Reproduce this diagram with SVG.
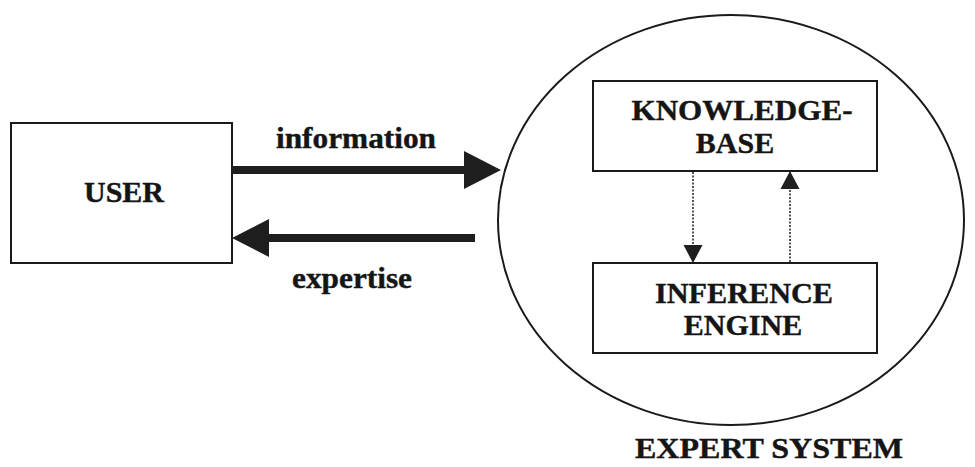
<svg xmlns="http://www.w3.org/2000/svg" width="975" height="467" viewBox="0 0 975 467">
<style>
.box{fill:none;stroke:#1a1a1a;stroke-width:2}
.lbl{font-family:"Liberation Serif","Times New Roman",serif;font-weight:bold;font-size:30px;fill:#151515;stroke:#151515;stroke-width:0.4;text-anchor:middle}
.thick{stroke:#1e1e1e;stroke-width:8;fill:none}
.dot{stroke:#2a2a2a;stroke-width:1.6;stroke-dasharray:2 1.5;fill:none}
</style>
<defs>
<marker id="bigHead" markerUnits="userSpaceOnUse" markerWidth="40" markerHeight="40" refX="0" refY="19" orient="auto" overflow="visible">
<path d="M0,0 L37,19 L0,38 z" fill="#1e1e1e"/>
</marker>
<marker id="smallHead" markerUnits="userSpaceOnUse" markerWidth="20" markerHeight="20" refX="18" refY="9.5" orient="auto" overflow="visible">
<path d="M0,0 L18,9.5 L0,19 z" fill="#1e1e1e"/>
</marker>
</defs>
<g id="user">
<rect class="box" x="11" y="123" width="221" height="140"/>
<text class="lbl" x="124" y="202">USER</text>
</g>
<g id="expert-system">
<ellipse cx="731" cy="220" rx="233" ry="205" fill="none" stroke="#1a1a1a" stroke-width="2"/>
<text class="lbl" x="769" y="458" textLength="268" lengthAdjust="spacingAndGlyphs">EXPERT SYSTEM</text>
</g>
<g id="knowledge-base">
<rect class="box" x="593" y="81" width="284" height="90"/>
<text class="lbl" x="742" y="120" textLength="221" lengthAdjust="spacingAndGlyphs">KNOWLEDGE-</text>
<text class="lbl" x="735" y="153">BASE</text>
</g>
<g id="inference-engine">
<rect class="box" x="593" y="263" width="284" height="90"/>
<text class="lbl" x="744" y="303" textLength="178" lengthAdjust="spacingAndGlyphs">INFERENCE</text>
<text class="lbl" x="743" y="335">ENGINE</text>
</g>
<g id="connectors">
<line class="thick" x1="232" y1="170" x2="464" y2="170" marker-end="url(#bigHead)"/>
<text class="lbl" x="356" y="148" textLength="160" lengthAdjust="spacingAndGlyphs">information</text>
<line class="thick" x1="475" y1="238" x2="269" y2="238" marker-end="url(#bigHead)"/>
<text class="lbl" x="352" y="288" textLength="120" lengthAdjust="spacingAndGlyphs">expertise</text>
<line class="dot" x1="693" y1="172" x2="693" y2="263" marker-end="url(#smallHead)"/>
<line class="dot" x1="790" y1="262" x2="790" y2="171" marker-end="url(#smallHead)"/>
</g>
</svg>
